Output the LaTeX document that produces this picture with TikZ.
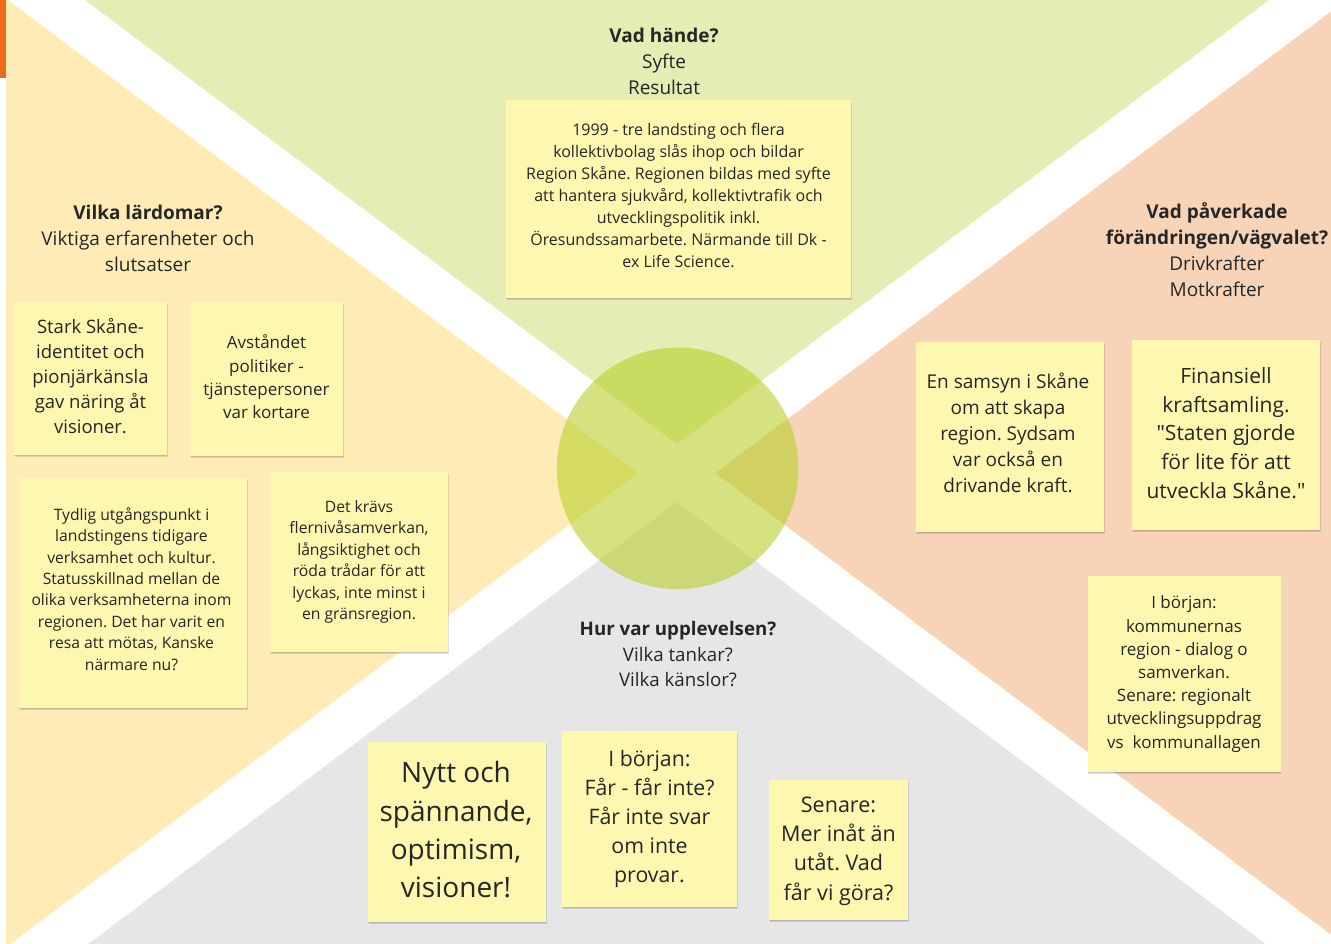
\documentclass[tikz,border=0pt]{standalone}
\usepackage{fontspec}
\setmainfont{Open Sans}[Ligatures=TeXOff]
\usetikzlibrary{shadows}
\definecolor{cgreen}{HTML}{E5EDB4}
\definecolor{cyellow}{HTML}{FEEBB5}
\definecolor{corange}{HTML}{F7D3B8}
\definecolor{cgray}{HTML}{E6E6E6}
\definecolor{cbar}{HTML}{EE6A1B}
\definecolor{ccircle}{RGB}{185,207,43}
\definecolor{cnote}{HTML}{FEF7AF}
\definecolor{ctext}{HTML}{262626}
\tikzset{
  notebox/.style={rectangle, fill=cnote, inner sep=0pt,
    drop shadow={shadow xshift=0.6pt, shadow yshift=-2.2pt, opacity=0.12, fill=black},
    drop shadow={shadow xshift=0.3pt, shadow yshift=-1pt, opacity=0.10, fill=black}},
  notetext/.style={align=center, text=ctext, inner sep=0pt},
  heading/.style={align=center, text=ctext, inner sep=0pt},
  fs/.style n args={2}{font=\fontsize{#1}{#2}\selectfont},
}
\begin{document}
\frenchspacing
\begin{tikzpicture}[x=1pt,y=-1pt]
\useasboundingbox (0,0) rectangle (1331,944);
\fill[white] (0,0) rectangle (1331,944);
% regions
\fill[cgreen] (85,0) -- (677,444) -- (1269,0) -- cycle;
\fill[cyellow] (6,0) -- (7.7,0) -- (638.3,473) -- (10.3,944) -- (6,944) -- cycle;
\fill[corange] (715.7,473) -- (1331,11.5) -- (1331,934.5) -- cycle;
\fill[cgray] (677,502) -- (88.3,944) -- (1265.7,944) -- cycle;
\fill[cbar] (0,0) rectangle (6,78);
% centre circle
\fill[ccircle, opacity=0.6] (677.7,468.3) circle[radius=120.8];

% headings
\node[heading, fs={19}{26}] (hTop) at (664,61) {\textbf{Vad hände?}\\Syfte\\Resultat};
\node[heading, fs={19}{26}] (hLeft) at (148,238) {\textbf{Vilka lärdomar?}\\Viktiga erfarenheter och\\slutsatser};
\node[heading, fs={19}{26}] (hRight) at (1217,250) {\textbf{Vad påverkade}\\\textbf{förändringen/vägvalet?}\\Drivkrafter\\Motkrafter};
\node[heading, fs={18.7}{25.5}] (hBottom) at (678,654.5) {\textbf{Hur var upplevelsen?}\\Vilka tankar?\\Vilka känslor?};

% note boxes
\node[notebox, minimum width=345pt, minimum height=198pt] (n1) at (678.5,199) {};
\node[notebox, minimum width=153pt, minimum height=153pt] (n2) at (90.5,378.5) {};
\node[notebox, minimum width=153pt, minimum height=154pt] (n3) at (266.5,379) {};
\node[notebox, minimum width=228pt, minimum height=230pt] (n4) at (133,593) {};
\node[notebox, minimum width=178pt, minimum height=180pt] (n5) at (359,562) {};
\node[notebox, minimum width=188pt, minimum height=190pt] (n6) at (1010,437) {};
\node[notebox, minimum width=188pt, minimum height=190pt] (n7) at (1226,435) {};
\node[notebox, minimum width=193pt, minimum height=196pt] (n8) at (1184,674) {};
\node[notebox, minimum width=178pt, minimum height=180pt] (n9) at (457,832) {};
\node[notebox, minimum width=175pt, minimum height=176pt] (n10) at (649.5,819) {};
\node[notebox, minimum width=139pt, minimum height=140pt] (n11) at (838.5,850) {};

% note texts
\node[notetext, fs={16}{22}] (t1) at ([yshift=3.5pt]n1.center)
  {1999 - tre landsting och flera\\kollektivbolag slås ihop och bildar\\Region Skåne. Regionen bildas med syfte\\att hantera sjukvård, kollektivtrafik och\\utvecklingspolitik inkl.\\Öresundssamarbete. Närmande till Dk -\\ex Life Science.};
\node[notetext, fs={18.5}{25}] (t2) at ([yshift=2pt]n2.center)
  {Stark Skåne-\\identitet och\\pionjärkänsla\\gav näring åt\\visioner.};
\node[notetext, fs={17}{23.3}] (t3) at ([yshift=2pt]n3.center)
  {Avståndet\\politiker -\\tjänstepersoner\\var kortare};
\node[notetext, fs={15.7}{21.4}] (t4) at ([xshift=-1.5pt,yshift=4pt]n4.center)
  {Tydlig utgångspunkt i\\landstingens tidigare\\verksamhet och kultur.\\Statusskillnad mellan de\\olika verksamheterna inom\\regionen. Det har varit en\\resa att mötas, Kanske\\närmare nu?};
\node[notetext, fs={15.7}{21.4}] (t5) at (n5.center)
  {Det krävs\\flernivåsamverkan,\\långsiktighet och\\röda trådar för att\\lyckas, inte minst i\\en gränsregion.};
\node[notetext, fs={19}{26}] (t6) at ([xshift=-2pt,yshift=4pt]n6.center)
  {En samsyn i Skåne\\om att skapa\\region. Sydsam\\var också en\\drivande kraft.};
\node[notetext, fs={21}{28.75}] (t7) at ([yshift=2pt]n7.center)
  {Finansiell\\kraftsamling.\\"Staten gjorde\\för lite för att\\utveckla Skåne."};
\node[notetext, fs={17}{23.2}] (t8) at (n8.center)
  {I början:\\kommunernas\\region - dialog o\\samverkan.\\Senare: regionalt\\utvecklingsuppdrag\\vs\ \ kommunallagen};
\node[notetext, fs={28}{38.3}] (t9) at ([xshift=-1pt,yshift=2pt]n9.center)
  {Nytt och\\spännande,\\optimism,\\visioner!};
\node[notetext, fs={21.3}{29}] (t10) at (n10.center)
  {I början:\\Får - får inte?\\Får inte svar\\om inte\\provar.};
\node[notetext, fs={21.5}{29.3}] (t11) at ([yshift=-1pt]n11.center)
  {Senare:\\Mer inåt än\\utåt. Vad\\får vi göra?};
\end{tikzpicture}
\end{document}
